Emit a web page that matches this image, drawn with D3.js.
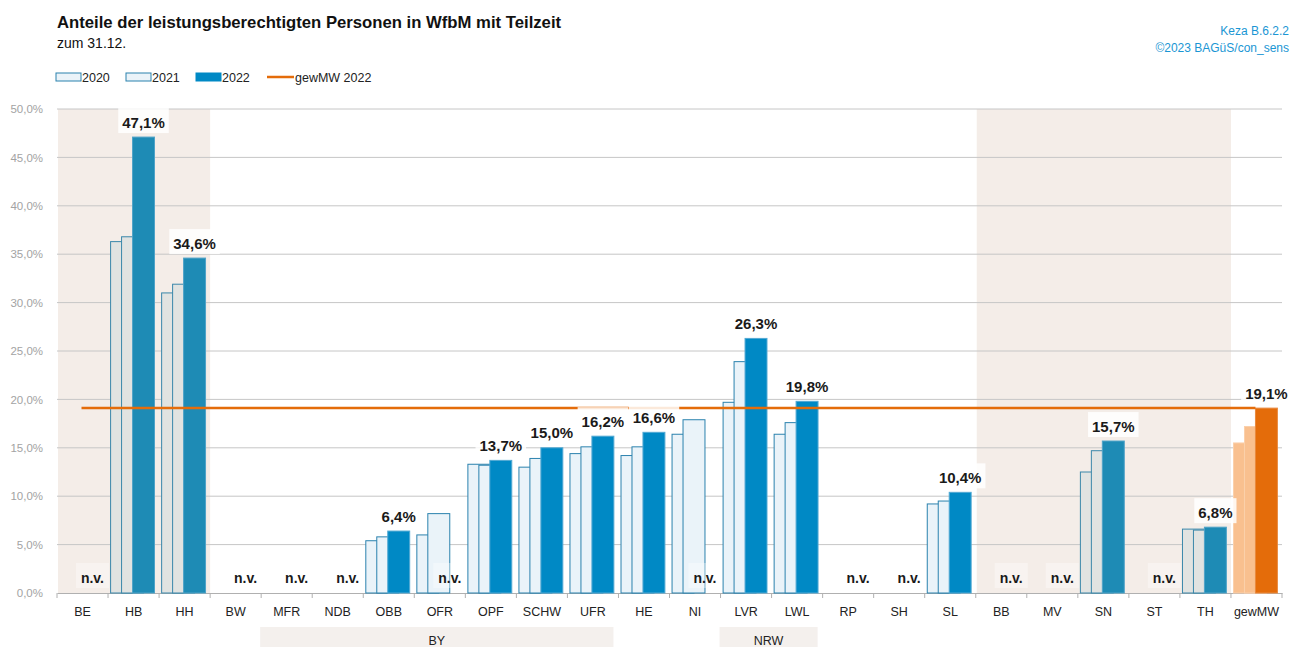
<!DOCTYPE html>
<html>
<head>
<meta charset="utf-8">
<script src="https://cdn.jsdelivr.net/npm/d3@7"></script>
<style>
  body { margin: 0; background: #fff; }
  svg text { font-family: "Liberation Sans", Arial, sans-serif; }
</style>
</head>
<body>
<svg width="1290" height="647"></svg>
<script>
const categories = ["BE","HB","HH","BW","MFR","NDB","OBB","OFR","OPF","SCHW","UFR","HE","NI","LVR","LWL","RP","SH","SL","BB","MV","SN","ST","TH","gewMW"];
const values2020 = [null,36.3,31.0,null,null,null,5.4,6.0,13.3,13.0,14.4,14.2,16.4,19.7,16.4,null,null,9.2,null,null,12.5,null,6.6,15.5];
const values2021 = [null,36.8,31.9,null,null,null,5.8,8.2,13.2,13.9,15.1,15.1,17.9,23.9,17.6,null,null,9.5,null,null,14.7,null,6.5,17.2];
const values2022 = [null,47.1,34.6,null,null,null,6.4,null,13.7,15.0,16.2,16.6,null,26.3,19.8,null,null,10.4,null,null,15.7,null,6.8,19.1];
const mean2022 = 19.1;
const years = ["2020","2021","2022"];
const yTicks = [0,5,10,15,20,25,30,35,40,45,50];

// shaded areas (Stadtstaaten, Ost) and region groups under the axis
const shadedBlocks = [["BE","HH"],["BB","TH"]];
const regionGroups = [{name:"BY", from:"MFR", to:"UFR"}, {name:"NRW", from:"LVR", to:"LWL"}];
const shadedCats = ["BE","HB","HH","BB","MV","SN","ST","TH"];

const svg = d3.select("svg");
const plotLeft = 57, plotRight = 1282, plotTop = 109, plotBottom = 593;

const x = d3.scaleBand().domain(categories).range([plotLeft, plotRight]).padding(0);
const y = d3.scaleLinear().domain([0, 50]).range([plotBottom, plotTop]);
const bw = x.bandwidth();
const barW = bw * 0.43;
const barOff = bw * 0.05;
const fmt = v => d3.format(".1f")(v).replace(".", ",") + "%";

function colors(cat, i) {
  if (cat === "gewMW") return i < 2 ? {fill:"#f9c08f", stroke:"#fbd0ab"} : {fill:"#e46c0a", stroke:"#ea8a3e"};
  if (shadedCats.includes(cat)) return i < 2 ? {fill:"#e1e3e1", stroke:"#3a87aa"} : {fill:"#1e8bb5", stroke:"#4fa3c8"};
  return i < 2 ? {fill:"#eaf3f9", stroke:"#2b82ae"} : {fill:"#0089c5", stroke:"#52a9d4"};
}

// title
svg.append("text").attr("x", 57).attr("y", 28).attr("font-size", 16.7).attr("font-weight", "bold").attr("fill", "#111")
  .text("Anteile der leistungsberechtigten Personen in WfbM mit Teilzeit");
svg.append("text").attr("x", 57).attr("y", 48).attr("font-size", 14).attr("fill", "#111").text("zum 31.12.");
svg.append("text").attr("x", 1289).attr("y", 35).attr("font-size", 12).attr("fill", "#1a96d4").attr("text-anchor", "end").text("Keza B.6.2.2");
svg.append("text").attr("x", 1289).attr("y", 52).attr("font-size", 12).attr("fill", "#1a96d4").attr("text-anchor", "end").text("©2023 BAGüS/con_sens");

// legend
const legend = svg.append("g");
const legX = [56, 126, 196];
years.forEach((yr, i) => {
  const c = i < 2 ? {fill:"#eaf3f9", stroke:"#2b82ae"} : {fill:"#0089c5", stroke:"#0089c5"};
  legend.append("rect").attr("x", legX[i]).attr("y", 73).attr("width", 25).attr("height", 8)
    .attr("fill", c.fill).attr("stroke", c.stroke).attr("stroke-width", 1);
  legend.append("text").attr("x", legX[i] + 26).attr("y", 81.5).attr("font-size", 12.5).attr("fill", "#222").text(yr);
});
legend.append("line").attr("x1", 267).attr("x2", 294).attr("y1", 77).attr("y2", 77).attr("stroke", "#e46c0a").attr("stroke-width", 2.5);
legend.append("text").attr("x", 295).attr("y", 81.5).attr("font-size", 12.5).attr("fill", "#222").text("gewMW 2022");

// shading
svg.append("g").selectAll("rect").data(shadedBlocks).join("rect")
  .attr("x", d => x(d[0]) + 1)
  .attr("width", d => x(d[1]) + bw - x(d[0]) - 1)
  .attr("y", plotTop).attr("height", plotBottom - plotTop)
  .attr("fill", "#f4ede8");

// grid
svg.append("g").selectAll("line").data(yTicks.filter(d => d > 0)).join("line")
  .attr("x1", plotLeft).attr("x2", plotRight).attr("y1", d => y(d)).attr("y2", d => y(d))
  .attr("stroke", "#c6c6c6").attr("stroke-width", 1);

// y axis labels
const yAxis = svg.append("g").attr("transform", `translate(${plotLeft},0)`)
  .call(d3.axisLeft(y).tickValues(yTicks).tickFormat(fmt).tickSize(0).tickPadding(14));
yAxis.select(".domain").remove();
yAxis.selectAll("text").attr("font-size", 11.5).attr("fill", "#a3a3a3").style("font-family", "'Liberation Sans', Arial, sans-serif");

// region group boxes
const groups = svg.append("g");
regionGroups.forEach(g => {
  const gx0 = x(g.from) - 1, gx1 = x(g.to) + bw - 5;
  groups.append("rect").attr("x", gx0).attr("y", 627).attr("width", gx1 - gx0).attr("height", 20).attr("fill", "#f4f0ed");
  groups.append("text").attr("x", (gx0 + gx1) / 2).attr("y", 645).attr("text-anchor", "middle")
    .attr("font-size", 12.5).attr("fill", "#222").text(g.name);
});

// x axis
const xAxis = svg.append("g").attr("transform", `translate(0,${plotBottom})`)
  .call(d3.axisBottom(x).tickSize(0).tickPadding(14));
xAxis.select(".domain").attr("stroke", "#b0b0b0");
xAxis.selectAll("text").attr("font-size", 12.5).attr("fill", "#222").style("font-family", "'Liberation Sans', Arial, sans-serif");
svg.append("g").selectAll("line").data(categories).join("line")
  .attr("x1", d => x(d) + bw).attr("x2", d => x(d) + bw)
  .attr("y1", plotBottom).attr("y2", plotBottom + 5).attr("stroke", "#b0b0b0");
svg.append("line").attr("x1", plotLeft).attr("x2", plotLeft).attr("y1", plotBottom).attr("y2", plotBottom + 5).attr("stroke", "#b0b0b0");

// bars
const series = [values2020, values2021, values2022];
const barsG = svg.append("g");
series.forEach((vals, i) => {
  const data = categories.map((c, k) => ({cat: c, v: vals[k]})).filter(d => d.v !== null);
  barsG.append("g").selectAll("rect").data(data).join("rect")
    .attr("x", d => x(d.cat) + barOff + i * barW / 2)
    .attr("width", barW)
    .attr("y", d => y(d.v))
    .attr("height", d => plotBottom - y(d.v))
    .attr("fill", d => colors(d.cat, i).fill)
    .attr("stroke", d => colors(d.cat, i).stroke)
    .attr("stroke-width", 1);
});

// mean line
svg.append("line")
  .attr("x1", x(categories[0]) + barOff + barW)
  .attr("x2", x(categories[categories.length - 1]) + barOff + barW)
  .attr("y1", y(mean2022)).attr("y2", y(mean2022))
  .attr("stroke", "#e46c0a").attr("stroke-width", 2.5);

// value labels
const labG = svg.append("g");
categories.forEach((c, k) => {
  const cx = x(c) + barOff + barW * 1.5;
  const v = values2022[k];
  if (v !== null) {
    const by = y(v) - 9.5;
    const t = labG.append("text").attr("x", cx).attr("y", by).attr("text-anchor", "middle")
      .attr("font-size", 15).attr("font-weight", "bold").attr("fill", "#1a1a1a").text(fmt(v));
    const w = t.node().getComputedTextLength();
    labG.insert("rect", () => t.node()).attr("x", cx - w / 2 - 4).attr("y", by - 19.5)
      .attr("width", w + 8).attr("height", 25).attr("fill", "#fff").attr("fill-opacity", 0.85);
  } else {
    const by = 583;
    const t = labG.append("text").attr("x", cx).attr("y", by).attr("text-anchor", "middle")
      .attr("font-size", 14).attr("font-weight", "bold").attr("fill", "#1a1a1a").text("n.v.");
    const w = t.node().getComputedTextLength();
    labG.insert("rect", () => t.node()).attr("x", cx - w / 2 - 5).attr("y", 563)
      .attr("width", w + 10).attr("height", 25).attr("fill", "#fff").attr("fill-opacity", 0.35);
  }
});
</script>
</body>
</html>
